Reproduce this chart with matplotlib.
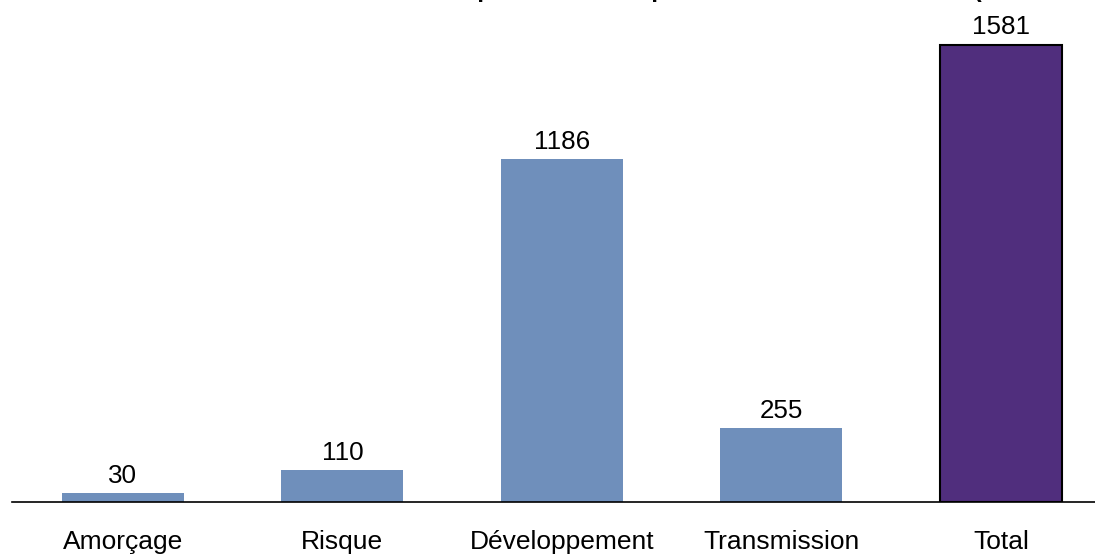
import matplotlib
matplotlib.use("Agg")
import matplotlib.pyplot as plt

categories = ["Amorçage", "Risque", "Développement", "Transmission", "Total"]
values = [30, 110, 1186, 255, 1581]
bar_colors = ["#6F8FBB", "#6F8FBB", "#6F8FBB", "#6F8FBB", "#502E7D"]
title = "Montants des capitaux investis par stade d'investissement  (en millions d'euros)"

plt.rcParams['font.family'] = ['Liberation Sans', 'DejaVu Sans']

fig = plt.figure(figsize=(10.95, 5.56), dpi=100)
ax = fig.add_axes([12/1095, 1 - 502/556, 1083/1095, 502/556])

x = list(range(len(categories)))
bars = ax.bar(x, values, width=0.555, color=bar_colors, zorder=2)
bars[-1].set_edgecolor("black")
bars[-1].set_linewidth(1.5)

ax.bar_label(bars, labels=[str(v) for v in values], padding=4, fontsize=18.7)

ax.set_xlim(-0.505, 4.429)
ax.set_ylim(0, 1736.7)
ax.set_xticks(x)
ax.set_xticklabels(categories, fontsize=19)
ax.tick_params(axis='x', length=0, pad=20)
ax.set_yticks([])
for s in ["top", "right", "left"]:
    ax.spines[s].set_visible(False)
ax.spines["bottom"].set_linewidth(1.2)
ax.spines["bottom"].set_color("black")
ax.patch.set_alpha(0)

fig.text(288/1095, 1 + 3.0/556, title, fontsize=17.4, fontweight='bold',
         ha='left', va='baseline')

fig.savefig("out.png", dpi=100)
